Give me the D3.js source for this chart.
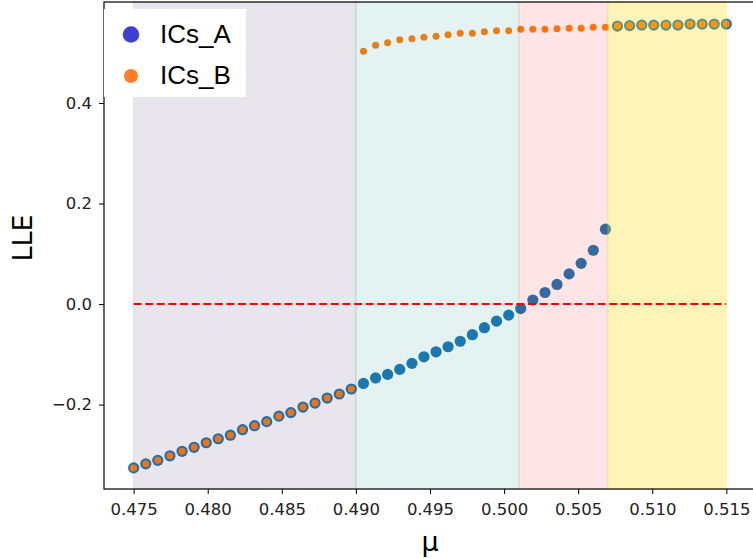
<!DOCTYPE html>
<html>
<head>
<meta charset="utf-8">
<script src="https://cdn.jsdelivr.net/npm/d3@7"></script>
<style>
  body { margin: 0; background: #fff; }
  svg { display: block; }
</style>
</head>
<body>
<div id="chart"></div>
<script>
// control parameter values (50 samples, 0.475 .. 0.515)
const mu = [
  0.47500, 0.47582, 0.47663, 0.47745, 0.47827, 0.47908, 0.47990, 0.48071, 0.48153, 0.48235,
  0.48316, 0.48398, 0.48480, 0.48561, 0.48643, 0.48724, 0.48806, 0.48888, 0.48969, 0.49051,
  0.49133, 0.49214, 0.49296, 0.49378, 0.49459, 0.49541, 0.49622, 0.49704, 0.49786, 0.49867,
  0.49949, 0.50031, 0.50112, 0.50194, 0.50276, 0.50357, 0.50439, 0.50520, 0.50602, 0.50684,
  0.50765, 0.50847, 0.50929, 0.51010, 0.51092, 0.51173, 0.51255, 0.51337, 0.51418, 0.51500
];
const icsA = [
  -0.326, -0.318, -0.311, -0.302, -0.293, -0.285, -0.276, -0.268, -0.261, -0.250,
  -0.242, -0.234, -0.223, -0.216, -0.205, -0.197, -0.187, -0.179, -0.169, -0.158,
  -0.147, -0.140, -0.130, -0.118, -0.105, -0.095, -0.085, -0.074, -0.061, -0.047,
  -0.034, -0.022, -0.009, 0.008, 0.023, 0.039, 0.060, 0.081, 0.107, 0.149,
  0.553, 0.554, 0.555, 0.555, 0.555, 0.555, 0.557, 0.557, 0.557, 0.557
];
const icsB = [
  -0.326, -0.318, -0.311, -0.302, -0.293, -0.285, -0.276, -0.268, -0.261, -0.250,
  -0.242, -0.234, -0.223, -0.216, -0.205, -0.197, -0.187, -0.179, -0.169, 0.503,
  0.515, 0.520, 0.526, 0.528, 0.531, 0.533, 0.536, 0.539, 0.539, 0.542,
  0.544, 0.544, 0.547, 0.547, 0.547, 0.548, 0.549, 0.549, 0.551, 0.551,
  0.553, 0.554, 0.555, 0.555, 0.555, 0.555, 0.557, 0.557, 0.557, 0.557
];
// shaded regimes
const spanBounds = [0.475, 0.490, 0.501, 0.507, 0.515];
const spanColors = ["#4b2a6b", "teal", "red", "gold"];
const spanAlpha = [0.12, 0.1, 0.1, 0.28];
const xTicks = [0.475, 0.480, 0.485, 0.490, 0.495, 0.500, 0.505, 0.510, 0.515];
const yTicks = [-0.2, 0.0, 0.2, 0.4];

const width = 753, height = 558;
const margin = {top: 2, right: -3, bottom: 69, left: 104};

const svg = d3.select("#chart").append("svg")
    .attr("width", width)
    .attr("height", height);

let x = d3.scaleLinear()
    .domain([0.473, 0.517])
    .range([margin.left, width - margin.right]);
let y = d3.scaleLinear()
    .domain([-0.368, 0.601])
    .range([height - margin.bottom, margin.top]);

const ptsA = mu.map((m, i) => ({mu: m, v: icsA[i]}));
const ptsB = mu.map((m, i) => ({mu: m, v: icsB[i]}));

// scatter A (large, blue) then B (small, orange)
svg.append("g")
  .selectAll("circle")
  .data(ptsA)
  .join("circle")
    .attr("cx", d => x(d.mu))
    .attr("cy", d => y(d.v))
    .attr("r", 5.6)
    .attr("fill", "#1f77b4");

svg.append("g")
  .selectAll("circle")
  .data(ptsB)
  .join("circle")
    .attr("cx", d => x(d.mu))
    .attr("cy", d => y(d.v))
    .attr("r", 3.5)
    .attr("fill", "#ff7f0e");

// regime spans drawn over the points with alpha
svg.append("g")
  .selectAll("rect")
  .data(spanColors)
  .join("rect")
    .attr("x", (d, i) => x(spanBounds[i]))
    .attr("y", y.range()[1])
    .attr("width", (d, i) => x(spanBounds[i + 1]) - x(spanBounds[i]))
    .attr("height", y.range()[0] - y.range()[1])
    .attr("fill", d => d)
    .attr("fill-opacity", (d, i) => spanAlpha[i])
    .attr("stroke", d => d)
    .attr("stroke-opacity", (d, i) => spanAlpha[i])
    .attr("stroke-width", 1);

// zero line
svg.append("line")
    .attr("x1", x(spanBounds[0]))
    .attr("x2", x(spanBounds[spanBounds.length - 1]))
    .attr("y1", y(0))
    .attr("y2", y(0))
    .attr("stroke", "red")
    .attr("stroke-width", 2)
    .attr("stroke-dasharray", "8,3.6");

// frame
svg.append("rect")
    .attr("x", x.range()[0])
    .attr("y", y.range()[1])
    .attr("width", x.range()[1] - x.range()[0])
    .attr("height", y.range()[0] - y.range()[1])
    .attr("fill", "none")
    .attr("stroke", "black")
    .attr("stroke-width", 1.2);

let xAxis = g => g
    .attr("transform", `translate(0,${y.range()[0]})`)
    .call(d3.axisBottom(x).tickValues(xTicks).tickFormat(d3.format(".3f"))
        .tickSize(5).tickPadding(9).tickSizeOuter(0))
    .call(g => g.select(".domain").remove())
    .style("font-family", "DejaVu Sans")
    .style("font-size", "16.5px");

let yAxis = g => g
    .attr("transform", `translate(${x.range()[0]},0)`)
    .call(d3.axisLeft(y).tickValues(yTicks).tickFormat(d3.format(".1f"))
        .tickSize(5).tickPadding(7).tickSizeOuter(0))
    .call(g => g.select(".domain").remove())
    .style("font-family", "DejaVu Sans")
    .style("font-size", "16.5px");

svg.append("g").call(xAxis);
svg.append("g").call(yAxis);
svg.selectAll(".tick text").attr("fill", "#222");

// axis labels
svg.append("text")
    .attr("transform", "translate(32,238) rotate(-90)")
    .attr("text-anchor", "middle")
    .style("font-family", "DejaVu Sans")
    .style("font-size", "27px")
    .text("LLE");

svg.append("text")
    .attr("x", (x.range()[0] + x.range()[1]) / 2)
    .attr("y", 551)
    .attr("text-anchor", "middle")
    .style("font-family", "DejaVu Sans")
    .style("font-size", "27px")
    .text("μ");

// legend
const legend = svg.append("g");
legend.append("rect")
    .attr("x", 104)
    .attr("y", 9)
    .attr("width", 142)
    .attr("height", 88)
    .attr("fill", "white");
const legendItems = [
  {name: "ICs_A", color: "#4040cf", r: 8.3, cy: 34.5, ty: 43},
  {name: "ICs_B", color: "#ff7f27", r: 7, cy: 76, ty: 84}
];
legend.selectAll("circle")
  .data(legendItems)
  .join("circle")
    .attr("cx", 131)
    .attr("cy", d => d.cy)
    .attr("r", d => d.r)
    .attr("fill", d => d.color);
legend.selectAll("text")
  .data(legendItems)
  .join("text")
    .attr("x", 160)
    .attr("y", d => d.ty)
    .style("font-family", "Liberation Sans")
    .style("font-size", "26px")
    .text(d => d.name);
</script>
</body>
</html>
